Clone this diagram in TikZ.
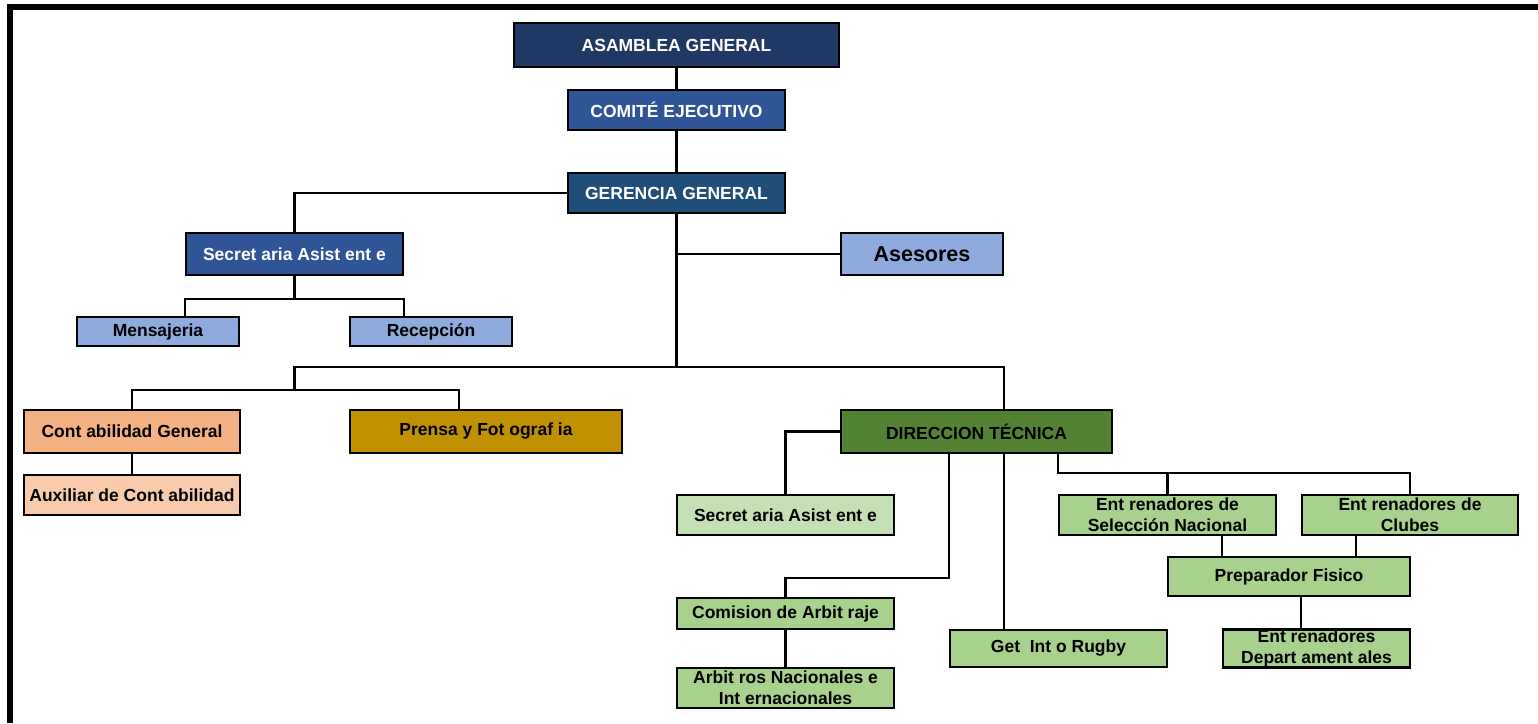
\documentclass[tikz,border=0pt]{standalone}
\usepackage{fontspec}
\setmainfont{Liberation Sans}
\definecolor{navy}{HTML}{203864}
\definecolor{azul}{HTML}{2F5597}
\definecolor{petrol}{HTML}{1F4E79}
\definecolor{celeste}{HTML}{8FAADC}
\definecolor{salmon}{HTML}{F4B183}
\definecolor{salmonclaro}{HTML}{F8CBAD}
\definecolor{ocre}{HTML}{BF9000}
\definecolor{verde}{HTML}{548235}
\definecolor{verdeclaro}{HTML}{C5E0B4}
\definecolor{verdemedio}{HTML}{A9D18E}
\begin{document}
\begin{tikzpicture}[x=1pt,y=-1pt,
    caja/.style={draw,line width=2.8pt,inner sep=0pt,align=center,
      font=\bfseries\fontsize{17.5}{21}\selectfont},
    dim/.style 2 args={minimum width=#1,minimum height=#2}]
  \useasboundingbox (0,0) rectangle (1538,723);
  \draw[line width=5.8pt] (10,723) -- (10,7) -- (1538,7);
  \draw
    (676.5,45) node[caja,fill=navy,text=white,dim={325pt}{44pt}] (asamblea){ASAMBLEA GENERAL}
    (676.5,110) node[caja,fill=azul,text=white,dim={217pt}{40pt}] (comite){COMITÉ EJECUTIVO}
    (676.5,193) node[caja,fill=petrol,text=white,dim={217pt}{40pt}] (gerencia){GERENCIA GENERAL}
    (294.5,254) node[caja,fill=azul,text=white,dim={217pt}{42pt}] (secA){Secret aria Asist ent e}
    (922,254) node[caja,fill=celeste,dim={162pt}{42pt},font=\bfseries\fontsize{21.5}{26}\selectfont] (asesores){Asesores}
    (158,331.5) node[caja,fill=celeste,dim={162pt}{29pt}] (mensajeria){Mensajeria}
    (431,331.5) node[caja,fill=celeste,dim={162pt}{29pt}] (recepcion){Recepción}
    (132,431.5) node[caja,fill=salmon,dim={216pt}{43pt}] (contab){Cont abilidad General}
    (132,495) node[caja,fill=salmonclaro,dim={216pt}{40pt}] (auxiliar){Auxiliar de Cont abilidad}
    (486,431.5) node[caja,fill=ocre,dim={272pt}{43pt}] (prensa){Prensa y Fot ograf ia}
    (976.5,431.5) node[caja,fill=verde,dim={271pt}{43pt}] (direccion){DIRECCION TÉCNICA}
    (785.5,515) node[caja,fill=verdeclaro,dim={217pt}{40pt}] (secB){Secret aria Asist ent e}
    (1167.5,515) node[caja,fill=verdemedio,dim={217pt}{40pt}] (selnac){Ent renadores de\\Selección Nacional}
    (1410,515) node[caja,fill=verdemedio,dim={216pt}{40pt}] (clubes){Ent renadores de\\Clubes}
    (1289,576.5) node[caja,fill=verdemedio,dim={242pt}{39pt}] (prepfis){Preparador Fisico}
    (785.5,613.5) node[caja,fill=verdemedio,dim={217pt}{31pt}] (comision){Comision de Arbit raje}
    (1058.5,648.5) node[caja,fill=verdemedio,dim={217pt}{37pt}] (getinto){Get\ \ Int o Rugby}
    (1316.5,648.5) node[caja,fill=verdemedio,dim={187pt}{37pt}] (entdep){Ent renadores\\Depart ament ales}
    (785.5,688) node[caja,fill=verdemedio,dim={217pt}{40pt}] (arbitros){Arbit ros Nacionales e\\Int ernacionales};
  \coordinate (bus) at (676.5,367);
  \coordinate (izq) at (294.5,390);
  \coordinate (sec) at (294.5,299);
  \coordinate (arb) at (785.5,578);
  \coordinate (ent) at (1167.5,473);
  \coordinate (meA) at ([xshift=27pt]mensajeria.north);
  \coordinate (reA) at ([xshift=-27pt]recepcion.north);
  \coordinate (dtA) at ([xshift=-27.5pt]direccion.south);
  \coordinate (dtB) at ([xshift=27.5pt]direccion.south);
  \coordinate (dtC) at ([xshift=81.5pt]direccion.south);
  \coordinate (dtD) at ([xshift=27.5pt]direccion.north);
  \coordinate (prA) at ([xshift=-27pt]prensa.north);
  \coordinate (snB) at ([xshift=54.5pt]selnac.south);
  \coordinate (clB) at ([xshift=-54pt]clubes.south);
  \coordinate (pfB) at ([xshift=12pt]prepfis.south);
  \begin{scope}[line width=2.8pt]
    \draw (asamblea) -- (comite);
    \draw (comite) -- (gerencia);
    \draw (gerencia.west) -| (secA.north);
    \draw (gerencia) -- (bus);
    \draw (asesores.west) -- (asesores.west -| bus);
    \draw (secA) -- (sec);
    \draw (meA) |- (sec) -| (reA);
    \draw (izq) |- (bus) -| (dtD);
    \draw (contab.north) |- (izq) -| (prA);
    \draw (contab) -- (auxiliar);
    \draw (direccion.west) -| (secB.north);
    \draw (dtA) |- (arb) -- (comision.north);
    \draw (comision) -- (arbitros);
    \draw (dtB) -- (dtB |- getinto.north);
    \draw (dtC) |- (ent) -| (clubes.north);
    \draw (selnac.north) -- (ent);
    \draw (snB) -- (snB |- prepfis.north);
    \draw (clB) -- (clB |- prepfis.north);
    \draw (pfB) -- (pfB |- entdep.north);
  \end{scope}
\end{tikzpicture}
\end{document}
